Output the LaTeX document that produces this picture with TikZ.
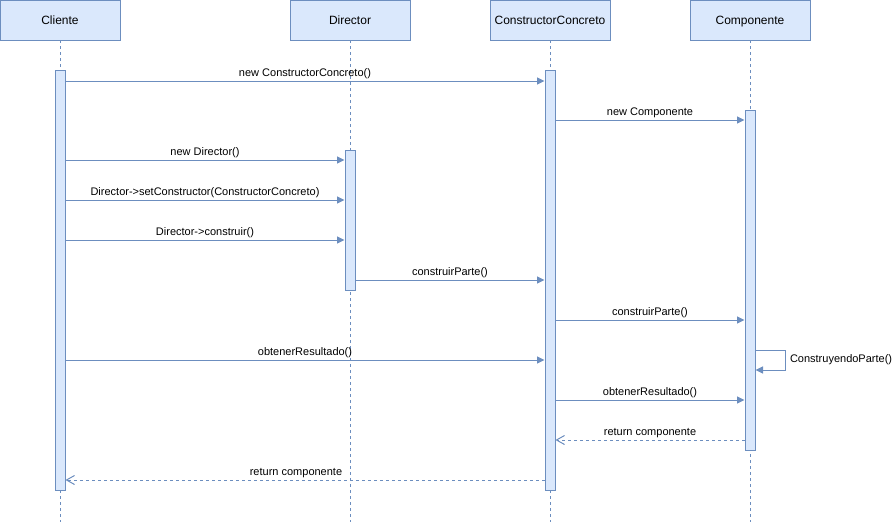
\documentclass[tikz,border=0pt]{standalone}
\usepackage{fontspec}
\setmainfont{Liberation Sans}
\usepackage{tikz}
\usetikzlibrary{positioning, arrows.meta, calc}
\definecolor{lineblue}{HTML}{6C8EBF}
\definecolor{fillblue}{HTML}{DAE8FC}

\begin{document}
\begin{tikzpicture}[
  x=1pt, y=-1pt,
  line width=1pt,
  node distance=80pt,
  head/.style={draw=lineblue, fill=fillblue, minimum width=120pt, minimum height=40pt, inner sep=0pt, outer sep=0pt, text height=11pt, text depth=2pt, font=\fontsize{12}{14}\selectfont},
  act/.style={draw=lineblue, fill=fillblue, minimum width=10pt, inner sep=0pt, anchor=north},
  life/.style={draw=lineblue, dash pattern=on 3pt off 3pt},
  msg/.style={draw=lineblue, -{Triangle[length=7.5pt, width=7pt]}},
  ret/.style={draw=lineblue, dash pattern=on 3pt off 3pt, -{Straight Barb[length=8pt, width=9pt]}},
  txt/.style={font=\fontsize{11}{13}\selectfont, inner sep=0pt, text height=8pt, text depth=2.5pt},
  lbl/.style={txt, yshift=7.5pt}
]
\useasboundingbox (0,0) rectangle (892,522);
\coordinate (bot) at (0,522);
\node[head] (cli) at (60,20) {Cliente};
\node[head, right=170pt of cli] (dir) {Director};
\node[head, right=of dir] (cc) {ConstructorConcreto};
\node[head, right=of cc] (comp) {Componente};
\draw[life] (cli.south) -- (cli.south |- bot);
\draw[life] (dir.south) -- (dir.south |- bot);
\draw[life] (cc.south) -- (cc.south |- bot);
\draw[life] (comp.south) -- (comp.south |- bot);
\node[act, minimum height=420pt] (aCli) at (cli.south |- 0,70) {};
\node[act, minimum height=140pt] (aDir) at (dir.south |- 0,150) {};
\node[act, minimum height=420pt] (aCC) at (cc.south |- 0,70) {};
\node[act, minimum height=340pt] (aComp) at (comp.south |- 0,110) {};
\draw[msg] (aCli.east |- 0,81) -- node[lbl] {new ConstructorConcreto()} (aCC.west |- 0,81);
\draw[msg] (aCC.east |- 0,120) -- node[lbl] {new Componente} (aComp.west |- 0,120);
\draw[msg] (aCli.east |- 0,160) -- node[lbl] {new Director()} (aDir.west |- 0,160);
\draw[msg] (aCli.east |- 0,200) -- node[lbl] {Director->setConstructor(ConstructorConcreto)} (aDir.west |- 0,200);
\draw[msg] (aCli.east |- 0,240) -- node[lbl] {Director->construir()} (aDir.west |- 0,240);
\draw[msg] (aDir.east |- 0,280) -- node[lbl] {construirParte()} (aCC.west |- 0,280);
\draw[msg] (aCC.east |- 0,320) -- node[lbl] {construirParte()} (aComp.west |- 0,320);
\draw[msg] (aComp.east |- 0,350) -- ++(30,0) -- node[txt, anchor=west, xshift=4pt] {ConstruyendoParte()} ++(0,20) -- (aComp.east |- 0,370);
\draw[msg] (aCli.east |- 0,360) -- node[lbl] {obtenerResultado()} (aCC.west |- 0,360);
\draw[msg] (aCC.east |- 0,400) -- node[lbl] {obtenerResultado()} (aComp.west |- 0,400);
\draw[ret] (aComp.west |- 0,440) -- node[lbl] {return componente} (aCC.east |- 0,440);
\draw[ret] (aCC.west |- 0,480) -- node[lbl, xshift=-9pt] {return componente} (aCli.east |- 0,480);
\end{tikzpicture}
\end{document}
